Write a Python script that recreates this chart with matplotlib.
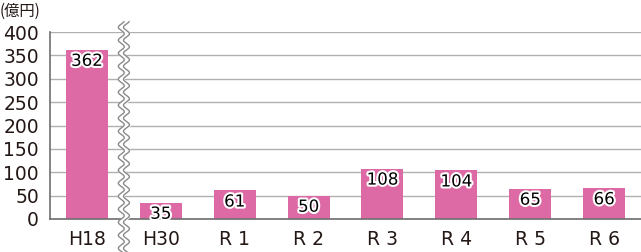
import matplotlib
matplotlib.use("Agg")
import matplotlib.pyplot as plt
import matplotlib.patheffects as pe
import matplotlib.transforms as mtransforms
import numpy as np

plt.rcParams['font.family'] = ['DejaVu Sans', 'Noto Sans CJK JP']

years = ["H18", "H30", "R 1", "R 2", "R 3", "R 4", "R 5", "R 6"]
values = [362, 35, 61, 50, 108, 104, 65, 66]
yticks = [0, 50, 100, 150, 200, 250, 300, 350, 400]

bar_color = "#dd6aa5"

fig = plt.figure(figsize=(6.41, 2.52), dpi=100)
ax = fig.add_axes([50/641, 1 - 219/252, 591/641, 187/252])

x = np.arange(len(years))
ax.bar(x, values, width=0.57, color=bar_color, zorder=2)

for xi, v in zip(x, values):
    ax.annotate(str(v), (xi, v), xytext=(0, -1.5), textcoords="offset points",
                ha="center", va="top", fontsize=12, color="black", zorder=4,
                path_effects=[pe.withStroke(linewidth=3, foreground="white")])

ax.set_xlim(-0.5, 7.5)
ax.set_ylim(0, 400)
ax.set_yticks(yticks)
ax.set_xticks(x)
ax.set_xticklabels(years)
ax.tick_params(axis="both", length=0, labelsize=13.5, colors="#231815")
ax.tick_params(axis="y", pad=8)
ax.tick_params(axis="x", pad=8)
ax.yaxis.grid(True, color="#b0b0b0", linewidth=1.0, zorder=0)
ax.set_axisbelow(True)

for s in ["top", "right"]:
    ax.spines[s].set_visible(False)
for s in ["left", "bottom"]:
    ax.spines[s].set_color("#6e6e6e")
    ax.spines[s].set_linewidth(1.2)

# break marks between H18 and H30
trans = mtransforms.blended_transform_factory(ax.transData, ax.transAxes)
yy = np.linspace(-0.18, 1.055, 800)
wave = 0.04 * np.sin(yy * 187 / 13.0 * 2 * np.pi)
xl = 0.5 - 0.035 + wave
xr = 0.5 + 0.035 + wave
ax.fill_betweenx(yy, xl, xr, color="white", transform=trans, clip_on=False, zorder=5)
ax.plot(xl, yy, color="#8a8a8a", linewidth=1.0, transform=trans, clip_on=False, zorder=6)
ax.plot(xr, yy, color="#8a8a8a", linewidth=1.0, transform=trans, clip_on=False, zorder=6)

fig.text(0.0, 1 - 11/252, "(億円)", fontsize=11, ha="left", va="center", color="#231815",
         family=['Noto Sans CJK JP', 'DejaVu Sans'])

fig.savefig("out.png", dpi=100)
